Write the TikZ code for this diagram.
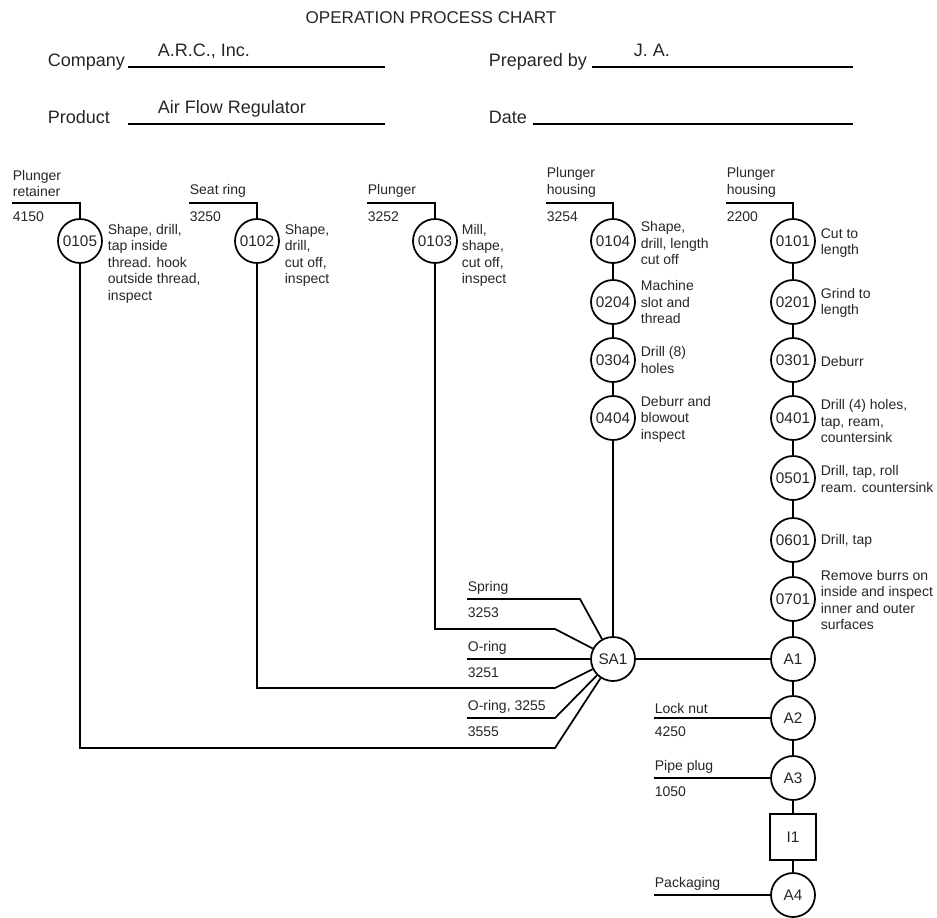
\documentclass[tikz,border=0pt]{standalone}
\usepackage{fontspec}
\setmainfont{Liberation Sans}

\begin{document}
\begin{tikzpicture}[x=0.75pt,y=-0.75pt,line width=1.3pt]
\tikzstyle{op}=[draw,circle,minimum size=33pt,inner sep=0pt,text=black!85,font=\fontsize{11.5}{13}\selectfont];
\tikzstyle{insp}=[draw,rectangle,minimum size=34pt,inner sep=0pt,text=black!85,font=\fontsize{11.5}{13}\selectfont];
\tikzstyle{txt}=[inner sep=0pt,align=left,text=black!85,font=\fontsize{10.5}{12.4}\selectfont];
\tikzstyle{head}=[inner sep=0pt,text=black!85,font=\fontsize{13.5}{16}\selectfont];
\useasboundingbox (0,0) rectangle (937,917);

% heading
\node[head,font=\fontsize{12.8}{15}\selectfont] (title) at (431,18) {OPERATION PROCESS CHART};
\node[head,anchor=base west] (comp) at (47,66) {Company};
\node[head,anchor=base west] (compv) at (157,56) {A.R.C., Inc.};
\node[head,anchor=base west] (prep) at (488,66) {Prepared by};
\node[head,anchor=base west] (prepv) at (633,56) {J. A.};
\node[head,anchor=base west] (prod) at (47,123) {Product};
\node[head,anchor=base west] (prodv) at (157,113) {Air Flow Regulator};
\node[head,anchor=base west] (date) at (488,123) {Date};
\draw (128,67) -- (385,67);
\draw (592,67) -- (853,67);
\draw (128,124) -- (385,124);
\draw (533,124) -- (853,124);

% operations
\node[op] (o0105) at (80,241) {0105};
\node[op] (o0102) at (257,241) {0102};
\node[op] (o0103) at (435,241) {0103};
\node[op] (o0104) at (613,241) {0104};
\node[op] (o0204) at (613,302) {0204};
\node[op] (o0304) at (613,360) {0304};
\node[op] (o0404) at (613,418) {0404};
\node[op] (o0101) at (793,241) {0101};
\node[op] (o0201) at (793,302) {0201};
\node[op] (o0301) at (793,360) {0301};
\node[op] (o0401) at (793,418) {0401};
\node[op] (o0501) at (793,478) {0501};
\node[op] (o0601) at (793,540) {0601};
\node[op] (o0701) at (793,599) {0701};
\node[op] (sa1) at (613,659) {SA1};
\node[op] (a1) at (793,659) {A1};
\node[op] (a2) at (793,718) {A2};
\node[op] (a3) at (793,778) {A3};
\node[insp] (i1) at (793,837) {I1};
\node[op] (a4) at (793,895) {A4};

% descriptions
\node[txt,anchor=north west] (d0105) at (107,223) {Shape, drill,\\tap inside\\thread. hook\\outside thread,\\inspect};
\node[txt,anchor=north west] (d0102) at (284,223) {Shape,\\drill,\\cut off,\\inspect};
\node[txt,anchor=north west] (d0103) at (461,223) {Mill,\\shape,\\cut off,\\inspect};
\node[txt,anchor=west] (d0104) at (640,243) {Shape,\\drill, length\\cut off};
\node[txt,anchor=west] (d0204) at (640,302) {Machine\\slot and\\thread};
\node[txt,anchor=west] (d0304) at (640,360) {Drill (8)\\holes};
\node[txt,anchor=west] (d0404) at (640,419) {Deburr and\\blowout\\inspect};
\node[txt,anchor=west] (d0101) at (820,243) {Cut to\\length};
\node[txt,anchor=west] (d0201) at (820,303) {Grind to\\length};
\node[txt,anchor=west] (d0301) at (820,361) {Deburr};
\node[txt,anchor=west] (d0401) at (820,421) {Drill (4) holes,\\tap, ream,\\countersink};
\node[txt,anchor=west] (d0501) at (820,479) {Drill, tap, roll\\ream. countersink};
\node[txt,anchor=west] (d0601) at (820,541) {Drill, tap};
\node[txt,anchor=west] (d0701) at (820,600) {Remove burrs on\\inside and inspect\\inner and outer\\surfaces};

% materials in
\coordinate (pr) at (12,203);
\coordinate (sr) at (189,203);
\coordinate (pl) at (367,203);
\coordinate (ph1) at (546,203);
\coordinate (ph2) at (726,203);
\node[txt,anchor=south west] (npr) at (12,198) {Plunger\\retainer};
\node[txt,anchor=north west] (cpr) at (12,211) {4150};
\node[txt,anchor=south west] (nsr) at (189,198) {Seat ring};
\node[txt,anchor=north west] (csr) at (189,211) {3250};
\node[txt,anchor=south west] (npl) at (367,198) {Plunger};
\node[txt,anchor=north west] (cpl) at (367,211) {3252};
\node[txt,anchor=south west] (nph1) at (546,198) {Plunger\\housing};
\node[txt,anchor=north west] (cph1) at (546,211) {3254};
\node[txt,anchor=south west] (nph2) at (726,198) {Plunger\\housing};
\node[txt,anchor=north west] (cph2) at (726,211) {2200};
\draw (pr) -| (o0105);
\draw (sr) -| (o0102);
\draw (pl) -| (o0103);
\draw (ph1) -| (o0104);
\draw (ph2) -| (o0101);

\coordinate (sp0) at (467,599);
\coordinate (sp1) at (580,599);
\coordinate (or0) at (467,659);
\coordinate (oq0) at (467,718);
\coordinate (oq1) at (555,718);
\coordinate (k1) at (555,629);
\coordinate (k2) at (555,688);
\coordinate (k3) at (555,748);
\coordinate (ln) at (654,718);
\coordinate (pp) at (654,778);
\coordinate (pk) at (654,895);
\node[txt,anchor=south west] (nsp) at (467,595) {Spring};
\node[txt,anchor=north west] (csp) at (467,607) {3253};
\node[txt,anchor=south west] (nor) at (467,655) {O-ring};
\node[txt,anchor=north west] (cor) at (467,667) {3251};
\node[txt,anchor=south west] (noq) at (467,714) {O-ring, 3255};
\node[txt,anchor=north west] (coq) at (467,726) {3555};
\node[txt,anchor=south west] (nln) at (654,714) {Lock nut};
\node[txt,anchor=north west] (cln) at (654,726) {4250};
\node[txt,anchor=south west] (npp) at (654,774) {Pipe plug};
\node[txt,anchor=north west] (cpp) at (654,786) {1050};
\node[txt,anchor=south west] (npk) at (654,891) {Packaging};

% flow lines
\draw (o0104) -- (o0204);
\draw (o0204) -- (o0304);
\draw (o0304) -- (o0404);
\draw (o0404) -- (sa1);
\draw (o0101) -- (o0201);
\draw (o0201) -- (o0301);
\draw (o0301) -- (o0401);
\draw (o0401) -- (o0501);
\draw (o0501) -- (o0601);
\draw (o0601) -- (o0701);
\draw (o0701) -- (a1);
\draw (a1) -- (a2);
\draw (a2) -- (a3);
\draw (a3) -- (i1);
\draw (i1) -- (a4);
\draw (sa1) -- (a1);
\draw (o0103) |- (k1) -- (sa1);
\draw (o0102) |- (k2) -- (sa1);
\draw (o0105) |- (k3) -- (sa1);
\draw (sp0) -- (sp1) -- (sa1);
\draw (or0) -- (sa1);
\draw (oq0) -- (oq1) -- (sa1);
\draw (ln) -- (a2);
\draw (pp) -- (a3);
\draw (pk) -- (a4);
\end{tikzpicture}
\end{document}
